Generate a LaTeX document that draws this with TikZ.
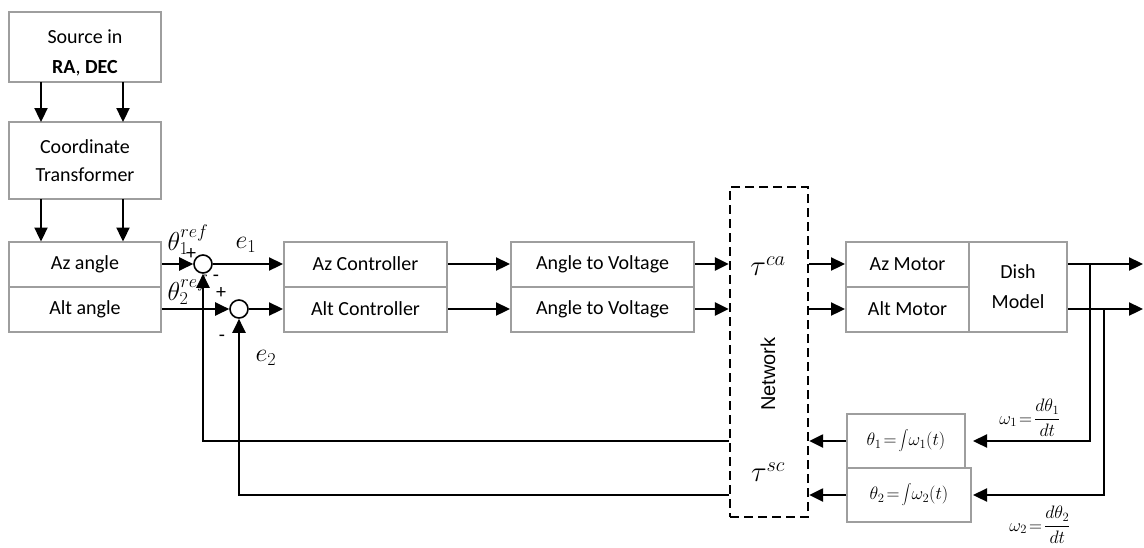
\RequirePackage{fix-cm}
\documentclass[tikz,border=0pt]{standalone}
\usepackage{fontspec}
\setmainfont{Carlito}
\newfontfamily\netfont{Liberation Sans}
\usetikzlibrary{arrows.meta}
\begin{document}
\begin{tikzpicture}[x=1pt,y=-1pt,
  blk/.style={draw=black!38,line width=2pt,rectangle,inner sep=0pt,align=center,
    font=\fontsize{20}{30}\selectfont},
  eqbox/.style={draw=black!38,line width=2pt,rectangle,inner sep=0pt,
    font=\fontsize{18}{20}\selectfont},
  arr/.style={line width=2.3pt,-{Triangle[length=14pt,width=13pt]}},
  sumpt/.style={draw,circle,line width=1.6pt,minimum size=18pt,inner sep=0pt},
  lbl/.style={inner sep=0pt,font=\fontsize{26}{28}\selectfont},
  sgn/.style={inner sep=0pt,font=\fontsize{20}{22}\selectfont},
  tau/.style={inner sep=0pt,font=\fontsize{29}{31}\selectfont},
  rate/.style={inner sep=0pt,font=\fontsize{18}{20}\selectfont}]
\useasboundingbox (0,0) rectangle (1144,547);

% source and coordinate transformation
\node[blk,minimum width=152pt,minimum height=70pt] (src) at (85,47) {\rule{0pt}{26pt}Source in\\\textbf{RA}, \textbf{DEC}};
\node[blk,minimum width=152pt,minimum height=77pt] (coord) at (85,160.5) {Coordinate\\[-2pt]Transformer};
\node[blk,minimum width=152pt,minimum height=45pt] (az) at (85,264) {Az angle};
\node[blk,minimum width=152pt,minimum height=45pt] (alt) at (85,309) {Alt angle};

\foreach \xx in {41,123}{
  \draw[arr] (\xx,82) -- (\xx,122);
  \draw[arr] (\xx,199) -- (\xx,241.5);
}

% summing junctions
\node[sumpt] (s1) at (203,264) {};
\node[sumpt] (s2) at (239,309) {};

% controllers and converters
\node[blk,minimum width=163pt,minimum height=45pt] (azc) at (365.5,264) {Az Controller};
\node[blk,minimum width=163pt,minimum height=45pt] (altc) at (365.5,309) {Alt Controller};
\node[blk,minimum width=183pt,minimum height=45pt] (av1) at (602.5,264) {Angle to Voltage};
\node[blk,minimum width=183pt,minimum height=45pt] (av2) at (602.5,309) {Angle to Voltage};

% network
\node[draw,line width=2.3pt,dash pattern=on 9pt off 5pt,rectangle,
  minimum width=78pt,minimum height=330pt] (net) at (769,352) {};
\node[rotate=90,inner sep=0pt,font=\netfont\fontsize{20}{24}\selectfont] (netlbl) at (768,374) {Network};
\node[tau] (tca) at (768,266) {$\tau^{ca}$};
\node[tau] (tsc) at (768,472) {$\tau^{sc}$};

% plant
\node[blk,minimum width=123pt,minimum height=45pt] (azm) at (907.5,264) {Az Motor};
\node[blk,minimum width=123pt,minimum height=45pt] (altm) at (907.5,309) {Alt Motor};
\node[blk,minimum width=98pt,minimum height=90pt] (dish) at (1018,286.5) {Dish\\Model};

% integrators
\node[eqbox,minimum width=118pt,minimum height=54pt] (th1) at (906,441) {$\theta_1\!=\!\displaystyle\int\!\omega_1(t)$};
\node[eqbox,minimum width=124pt,minimum height=54pt] (th2) at (909,495) {$\theta_2\!=\!\displaystyle\int\!\omega_2(t)$};

% forward path
\draw[arr] (az.east) -- (s1.west);
\draw[arr] (alt.east) -- (s2.west);
\draw[arr] (s1.east) -- (azc.west);
\draw[arr] (s2.east) -- (altc.west);
\draw[arr] (azc.east) -- (av1.west);
\draw[arr] (altc.east) -- (av2.west);
\draw[arr] (av1.east) -- (av1.east -| net.west);
\draw[arr] (av2.east) -- (av2.east -| net.west);
\draw[arr] (azm.west -| net.east) -- (azm.west);
\draw[arr] (altm.west -| net.east) -- (altm.west);

% outputs and branches
\coordinate (o1) at (1143,264);
\coordinate (o2) at (1143,309);
\coordinate (b1) at (1090,264);
\coordinate (b2) at (1104,309);
\coordinate (t1in) at (973,441);
\coordinate (t2in) at (973,495);
\draw[arr] (dish.east |- o1) -- (o1);
\draw[arr] (dish.east |- o2) -- (o2);
\draw[arr] (b1) |- (t1in);
\draw[arr] (b2) |- (t2in);

% feedback path
\draw[arr] (th1.west) -- (th1.west -| net.east);
\draw[arr] (th2.west) -- (th2.west -| net.east);
\draw[arr] (th1.west -| net.west) -| (s1.south);
\draw[arr] (th2.west -| net.west) -| (s2.south);

% signal labels
\node[lbl] (r1) at (188,240) {$\theta_1^{ref}$};
\node[lbl] (r2) at (188,290) {$\theta_2^{ref}$};
\node[sgn] (p1) at (191,254) {+};
\node[sgn] (m1) at (216,278) {-};
\node[sgn] (p2) at (221,293) {+};
\node[sgn] (m2) at (222,338) {-};
\node[lbl] (e1) at (246,245) {$e_1$};
\node[lbl] (e2) at (266,358) {$e_2$};
\node[rate] (w1) at (1030,418) {$\omega_1\!=\!\displaystyle\frac{d\theta_1}{dt}$};
\node[rate] (w2) at (1040,525) {$\omega_2\!=\!\displaystyle\frac{d\theta_2}{dt}$};
\end{tikzpicture}
\end{document}
